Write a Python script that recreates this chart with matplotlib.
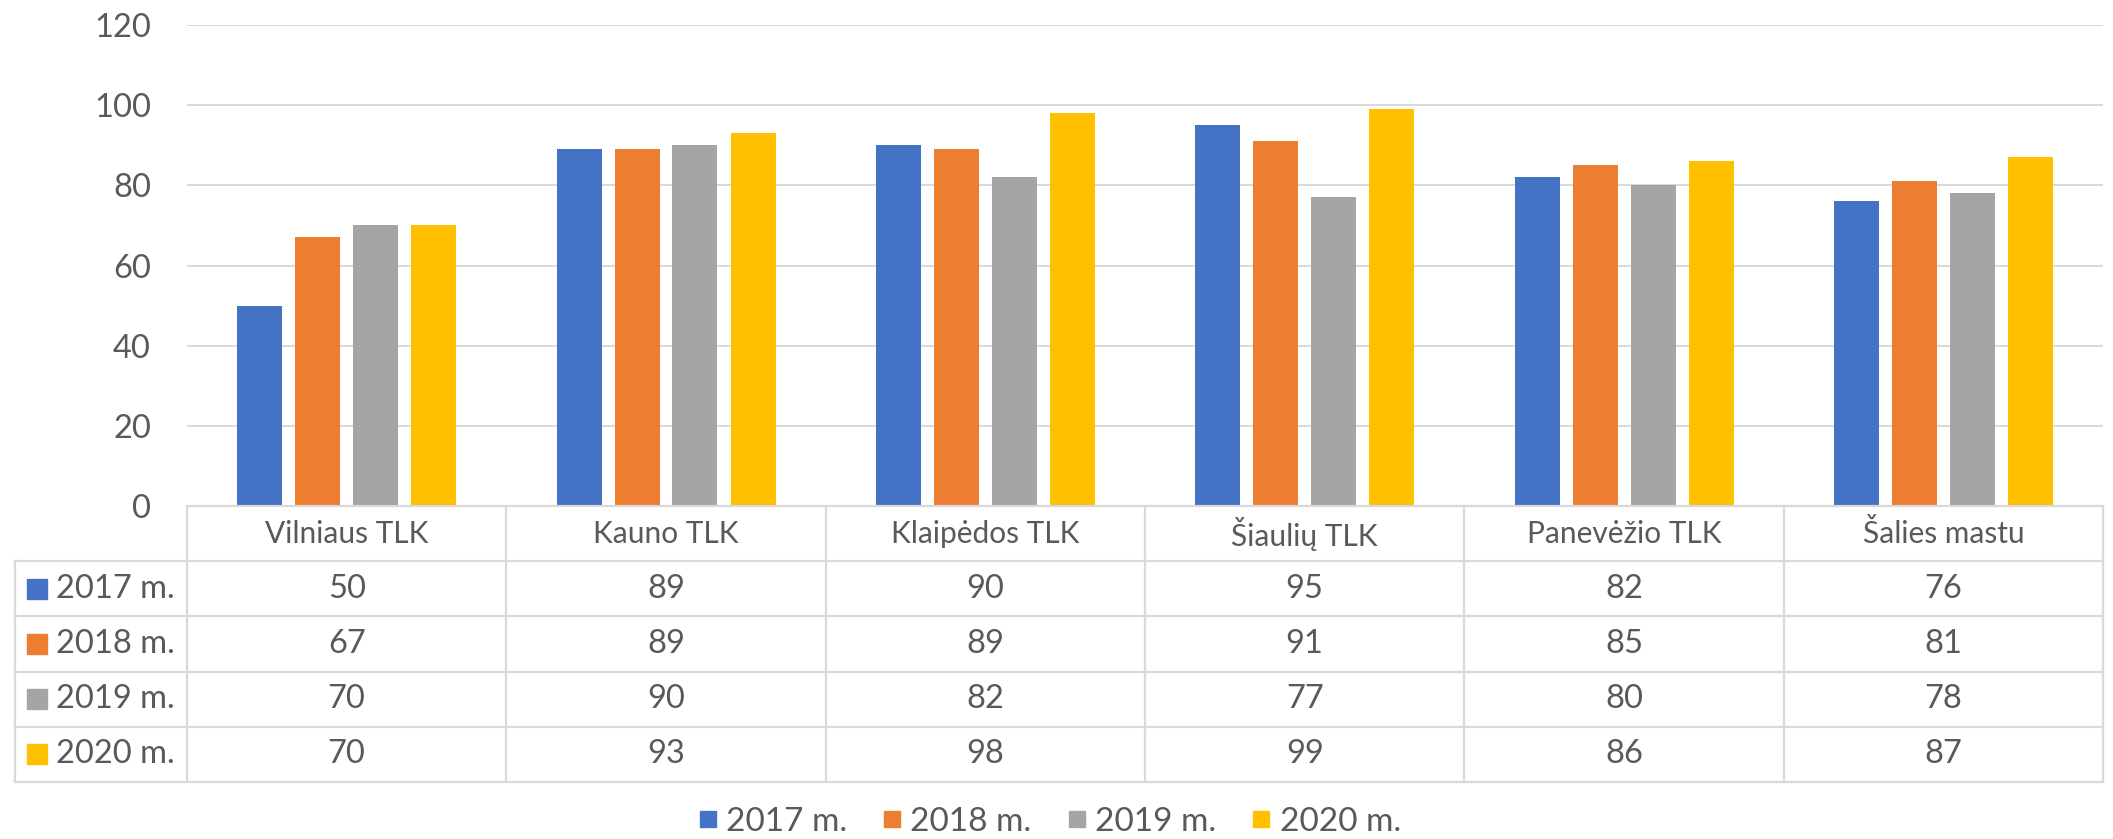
import matplotlib
matplotlib.use("Agg")
import matplotlib.pyplot as plt
from matplotlib.lines import Line2D

# data
categories = ["Vilniaus TLK", "Kauno TLK", "Klaipėdos TLK", "Šiaulių TLK", "Panevėžio TLK", "Šalies mastu"]
series_names = ["2017 m.", "2018 m.", "2019 m.", "2020 m."]
v2017 = [50, 89, 90, 95, 82, 76]
v2018 = [67, 89, 89, 91, 85, 81]
v2019 = [70, 90, 82, 77, 80, 78]
v2020 = [70, 93, 98, 99, 86, 87]
yticks = [0, 20, 40, 60, 80, 100, 120]

values = [v2017, v2018, v2019, v2020]
colors = ["#4472C4", "#ED7D31", "#A5A5A5", "#FFC000"]
text_col = "#595959"
grid_col = "#D9D9D9"

plt.rcParams["font.family"] = ["Lato", "DejaVu Sans"]
FS_CAT = 21.5   # category names
FS_NUM = 23.5   # numbers / row labels
FS_LEG = 24

W, H = 2113, 839
fig = plt.figure(figsize=(W / 100, H / 100), dpi=100)

# plot area in pixels
left, right, top, zero = 187, 2103, 25, 506
tab_left, tab_bottom = 15, 782
cw = (right - left) / len(categories)

ax = fig.add_axes([left / W, 1 - zero / H, (right - left) / W, (zero - top) / H])
pitch = 58 / cw
bw = 45 / cw
for k, (name, vals) in enumerate(zip(series_names, values)):
    xs = [i + (k - 1.5) * pitch for i in range(len(categories))]
    ax.bar(xs, vals, width=bw, color=colors[k], label=name, zorder=3)

ax.set_xlim(-0.5, len(categories) - 0.5)
ax.set_ylim(0, 120)
ax.set_yticks(yticks)
ax.set_xticks([])
for y in yticks[1:]:
    ax.axhline(y, color=grid_col, lw=1.4, zorder=1)
for s in ax.spines.values():
    s.set_visible(False)
ax.tick_params(axis="y", length=0, pad=26, labelsize=FS_NUM, labelcolor=text_col)

# data table below the plot
nrows = len(series_names) + 1
tax = fig.add_axes([tab_left / W, 1 - tab_bottom / H, (right - tab_left) / W, (tab_bottom - zero) / H])
xl = -0.5 - (left - tab_left) / cw
tax.set_xlim(xl, len(categories) - 0.5)
tax.set_ylim(nrows, 0)
tax.axis("off")
lw = 1.6
tax.plot([-0.5, len(categories) - 0.5], [0, 0], color=grid_col, lw=lw, clip_on=False)
for r in range(1, nrows + 1):
    tax.plot([xl, len(categories) - 0.5], [r, r], color=grid_col, lw=lw, clip_on=False)
tax.plot([xl, xl], [1, nrows], color=grid_col, lw=lw, clip_on=False)
for c in range(len(categories) + 1):
    tax.plot([c - 0.5, c - 0.5], [0, nrows], color=grid_col, lw=lw, clip_on=False)

for i, cat in enumerate(categories):
    tax.text(i, 0.5, cat, ha="center", va="center", fontsize=FS_CAT, color=text_col)
for k, (name, vals) in enumerate(zip(series_names, values)):
    r = k + 1.5
    tax.plot([-0.5 - (left - 36.5) / cw], [r], marker="s", ms=14.5, color=colors[k], clip_on=False)
    tax.text(-0.5 - (left - 56) / cw, r, name, ha="left", va="center", fontsize=FS_NUM, color=text_col)
    for i, v in enumerate(vals):
        tax.text(i, r, str(v), ha="center", va="center", fontsize=FS_NUM, color=text_col)

# legend
handles = [Line2D([], [], marker="s", ls="", ms=11, color=c) for c in colors]
fig.legend(handles, series_names, loc="center", bbox_to_anchor=(1050 / W, 1 - 822 / H),
           ncol=4, frameon=False, fontsize=FS_LEG, labelcolor=text_col,
           handlelength=0.5, handletextpad=0.3, columnspacing=1.1)

fig.savefig("out.png", dpi=100)
